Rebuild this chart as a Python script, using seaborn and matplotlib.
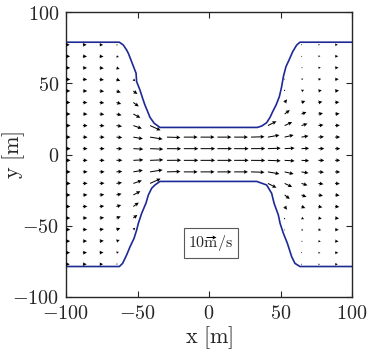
import numpy as np
import pandas as pd
import matplotlib
matplotlib.use('Agg')
import matplotlib.pyplot as plt
import seaborn as sns
from matplotlib.ticker import FuncFormatter

nan = np.nan

# measurement grid (m)
x_pts = [-100, -88.2, -76.5, -64.7, -52.9, -41.2, -29.4, -17.6, -5.9,
         5.9, 17.6, 29.4, 41.2, 52.9, 64.7, 76.5, 88.2, 100]
y_pts = [77, 68.9, 60.8, 52.7, 44.6, 36.5, 28.4, 20.3, 12.2, 4.1,
         -4.1, -12.2, -20.3, -28.4, -36.5, -44.6, -52.7, -60.8, -68.9, -77]

# velocity components (m/s), one row per y_pts entry
U = [
    [3.8, 3.8, 3.5, 1.4, nan, nan, nan, nan, nan, nan, nan, nan, nan, nan, 0.7, 1.6, 2.7, 3.2],
    [4.1, 4.1, 3.9, 2.4, nan, nan, nan, nan, nan, nan, nan, nan, nan, nan, 0.8, 2.0, 3.1, 3.5],
    [4.2, 4.2, 4.2, 3.2, nan, nan, nan, nan, nan, nan, nan, nan, nan, nan, 1.2, 2.4, 3.4, 3.8],
    [4.3, 4.3, 4.3, 3.8, 1.9, nan, nan, nan, nan, nan, nan, nan, nan, -0.8, 1.8, 2.8, 3.6, 3.9],
    [4.3, 4.4, 4.5, 4.3, 4.0, nan, nan, nan, nan, nan, nan, nan, nan, -0.6, 2.6, 3.4, 3.9, 4.0],
    [4.4, 4.5, 4.6, 4.7, 5.4, nan, nan, nan, nan, nan, nan, nan, nan, 2.4, 3.8, 4.0, 4.2, 4.2],
    [4.5, 4.6, 4.7, 5.1, 7.0, nan, nan, nan, nan, nan, nan, nan, nan, 5.1, 4.9, 4.6, 4.5, 4.3],
    [4.6, 4.7, 4.9, 5.5, 8.5, 10.5, nan, nan, nan, nan, nan, nan, 8.5, 7.5, 6.0, 5.1, 4.7, 4.5],
    [4.6, 4.7, 5.0, 5.8, 9.5, 12.5, 13.5, 13.8, 14.0, 14.0, 13.8, 13.5, 11.5, 9.0, 7.0, 5.6, 5.0, 4.6],
    [4.6, 4.7, 5.0, 5.9, 10.0, 13.2, 14.2, 14.5, 14.6, 14.6, 14.5, 14.2, 12.8, 10.0, 7.6, 5.9, 5.1, 4.7],
    [4.6, 4.7, 5.0, 5.9, 10.0, 13.2, 14.2, 14.5, 14.6, 14.6, 14.5, 14.2, 12.8, 10.0, 7.6, 5.9, 5.1, 4.7],
    [4.6, 4.7, 5.0, 5.8, 9.5, 12.5, 13.5, 13.8, 14.0, 14.0, 13.8, 13.5, 11.5, 9.0, 7.0, 5.6, 5.0, 4.6],
    [4.6, 4.7, 4.9, 5.5, 8.5, 10.5, nan, nan, nan, nan, nan, nan, 8.5, 7.5, 6.0, 5.1, 4.7, 4.5],
    [4.5, 4.6, 4.7, 5.1, 7.0, nan, nan, nan, nan, nan, nan, nan, nan, 5.1, 4.9, 4.6, 4.5, 4.3],
    [4.4, 4.5, 4.6, 4.7, 5.4, nan, nan, nan, nan, nan, nan, nan, nan, 2.4, 3.8, 4.0, 4.2, 4.2],
    [4.3, 4.4, 4.5, 4.3, 4.0, nan, nan, nan, nan, nan, nan, nan, nan, -0.6, 2.6, 3.4, 3.9, 4.0],
    [4.3, 4.3, 4.3, 3.8, 1.9, nan, nan, nan, nan, nan, nan, nan, nan, -0.8, 1.8, 2.8, 3.6, 3.9],
    [4.2, 4.2, 4.2, 3.2, nan, nan, nan, nan, nan, nan, nan, nan, nan, nan, 1.2, 2.4, 3.4, 3.8],
    [4.1, 4.1, 3.9, 2.4, nan, nan, nan, nan, nan, nan, nan, nan, nan, nan, 0.8, 2.0, 3.1, 3.5],
    [3.8, 3.8, 3.5, 1.4, nan, nan, nan, nan, nan, nan, nan, nan, nan, nan, 0.7, 1.6, 2.7, 3.2],
]
V = [
    [0, 0, -0.1, -0.4, nan, nan, nan, nan, nan, nan, nan, nan, nan, nan, 0.1, 0.1, 0.1, 0],
    [0, -0.1, -0.3, -0.8, nan, nan, nan, nan, nan, nan, nan, nan, nan, nan, 0.3, 0.3, 0.1, 0],
    [0, -0.1, -0.4, -1.2, nan, nan, nan, nan, nan, nan, nan, nan, nan, nan, 0.4, 0.4, 0.3, 0],
    [0, -0.1, -0.5, -1.5, -1.9, nan, nan, nan, nan, nan, nan, nan, nan, 0.9, 0.7, 0.5, 0.3, 0],
    [0, -0.1, -0.5, -1.6, -3.2, nan, nan, nan, nan, nan, nan, nan, nan, 1.5, 1.1, 0.7, 0.4, 0.1],
    [0, -0.1, -0.5, -1.5, -4.0, nan, nan, nan, nan, nan, nan, nan, nan, 3.2, 1.6, 0.8, 0.4, 0.1],
    [0, -0.1, -0.4, -1.2, -3.8, nan, nan, nan, nan, nan, nan, nan, nan, 4.0, 2.0, 0.8, 0.4, 0.1],
    [0, -0.1, -0.3, -0.9, -3.0, -4.8, nan, nan, nan, nan, nan, nan, 4.3, 3.5, 1.9, 0.7, 0.3, 0.1],
    [0, -0.1, -0.1, -0.5, -1.7, -2.0, -0.4, 0, 0, 0, 0, 0.4, 2.0, 2.1, 1.2, 0.4, 0.1, 0],
    [0, 0, 0, -0.1, -0.5, -0.5, -0.1, 0, 0, 0, 0, 0.1, 0.5, 0.6, 0.4, 0.1, 0, 0],
    [0, 0, 0, 0.1, 0.5, 0.5, 0.1, 0, 0, 0, 0, -0.1, -0.5, -0.6, -0.4, -0.1, 0, 0],
    [0, 0.1, 0.1, 0.5, 1.7, 2.0, 0.4, 0, 0, 0, 0, -0.4, -2.0, -2.1, -1.2, -0.4, -0.1, 0],
    [0, 0.1, 0.3, 0.9, 3.0, 4.8, nan, nan, nan, nan, nan, nan, -4.3, -3.5, -1.9, -0.7, -0.3, -0.1],
    [0, 0.1, 0.4, 1.2, 3.8, nan, nan, nan, nan, nan, nan, nan, nan, -4.0, -2.0, -0.8, -0.4, -0.1],
    [0, 0.1, 0.5, 1.5, 4.0, nan, nan, nan, nan, nan, nan, nan, nan, -3.2, -1.6, -0.8, -0.4, -0.1],
    [0, 0.1, 0.5, 1.6, 3.2, nan, nan, nan, nan, nan, nan, nan, nan, -1.5, -1.1, -0.7, -0.4, -0.1],
    [0, 0.1, 0.5, 1.5, 1.9, nan, nan, nan, nan, nan, nan, nan, nan, -0.9, -0.7, -0.5, -0.3, 0],
    [0, 0.1, 0.4, 1.2, nan, nan, nan, nan, nan, nan, nan, nan, nan, nan, -0.4, -0.4, -0.3, 0],
    [0, 0.1, 0.3, 0.8, nan, nan, nan, nan, nan, nan, nan, nan, nan, nan, -0.3, -0.3, -0.1, 0],
    [0, 0, 0.1, 0.4, nan, nan, nan, nan, nan, nan, nan, nan, nan, nan, -0.1, -0.1, -0.1, 0],
]

# channel walls
top_x = [-100, -62.7, -59.9, -57.6, -56.4, -54.1, -51.0, -50.6, -48.3, -46.4, -44.8, -42.4,
         -41.3, -38.3, -34.3, 33.8, 36.9, 40.3, 42.7, 44.5, 46.9, 49.2, 50.8, 52.0, 53.8,
         56.2, 58.5, 61.3, 63.6, 100]
top_y = [78.8, 78.8, 76.8, 73.3, 71.0, 65.1, 57.0, 51.1, 45.3, 39.4, 34.7, 28.9,
         26.1, 21.9, 19.0, 19.0, 20.0, 22.3, 26.1, 30.0, 34.7, 40.6, 47.6, 54.6, 61.6,
         66.8, 72.1, 76.8, 78.8, 78.8]
bot_x = [-100, -62.7, -60.4, -57.6, -55.2, -52.4, -50.6, -49.4, -47.1, -44.1, -42.4, -40.1,
         -37.8, -34.3, 33.4, 40.3, 43.8, 45.5, 48.5, 49.7, 52.0, 54.8, 57.8, 60.1, 63.6, 100]
bot_y = [-78.6, -78.6, -76.4, -70.5, -64.7, -58.8, -53.0, -48.3, -41.3, -34.2, -28.4, -23.7,
         -21.4, -18.9, -18.9, -21.4, -27.2, -34.2, -42.5, -48.3, -55.3, -62.3, -71.7, -76.4,
         -78.6, -78.6]

key_speed = 10

sns.set_style('ticks')
plt.rcParams['font.family'] = ['serif']
plt.rcParams['mathtext.fontset'] = 'cm'
plt.rcParams['xtick.direction'] = 'in'
plt.rcParams['ytick.direction'] = 'in'

fig = plt.figure(figsize=(3.71, 3.54), dpi=100)
ax = fig.add_axes([66 / 371, 57 / 354, 286 / 371, 285 / 354])

walls = pd.concat([
    pd.DataFrame({'x': top_x, 'y': top_y, 'wall': 'top'}),
    pd.DataFrame({'x': bot_x, 'y': bot_y, 'wall': 'bottom'}),
])
sns.lineplot(data=walls, x='x', y='y', units='wall', estimator=None, sort=False,
             color='#1c2a96', lw=1.2, ax=ax)

X, Y = np.meshgrid(x_pts, y_pts)
q = ax.quiver(X, Y, np.array(U), np.array(V), angles='xy', scale_units='xy', scale=1.43,
              color='k', width=0.0035, headwidth=4, headlength=4, headaxislength=3.5, zorder=3)

ax.text(1.4, -62.3, r'$10\mathrm{m/s}$', ha='center', va='center', fontsize=11.5, zorder=4,
        bbox=dict(boxstyle='square,pad=0.3', fc='white', ec='0.35', lw=0.8))
ax.quiverkey(q, 1.6, -57.6, key_speed, '', coordinates='data', labelpos='N', zorder=6)

ax.set_xlim(-100, 100)
ax.set_ylim(-100, 100)
ax.set_xticks([-100, -50, 0, 50, 100])
ax.set_yticks([-100, -50, 0, 50, 100])
fmt = FuncFormatter(lambda v, p: r'$%d$' % v)
ax.xaxis.set_major_formatter(fmt)
ax.yaxis.set_major_formatter(fmt)
ax.tick_params(top=True, right=True, length=4, width=0.8, labelsize=14.5, pad=5)
for s in ax.spines.values():
    s.set_linewidth(1.0)
ax.set_xlabel(r'$\mathrm{x\ [m]}$', fontsize=16)
ax.set_ylabel(r'$\mathrm{y\ [m]}$', fontsize=16)
ax.xaxis.set_label_coords(0.5, -0.095)
ax.yaxis.set_label_coords(-0.135, 0.5)

fig.savefig('out.png', dpi=100)
